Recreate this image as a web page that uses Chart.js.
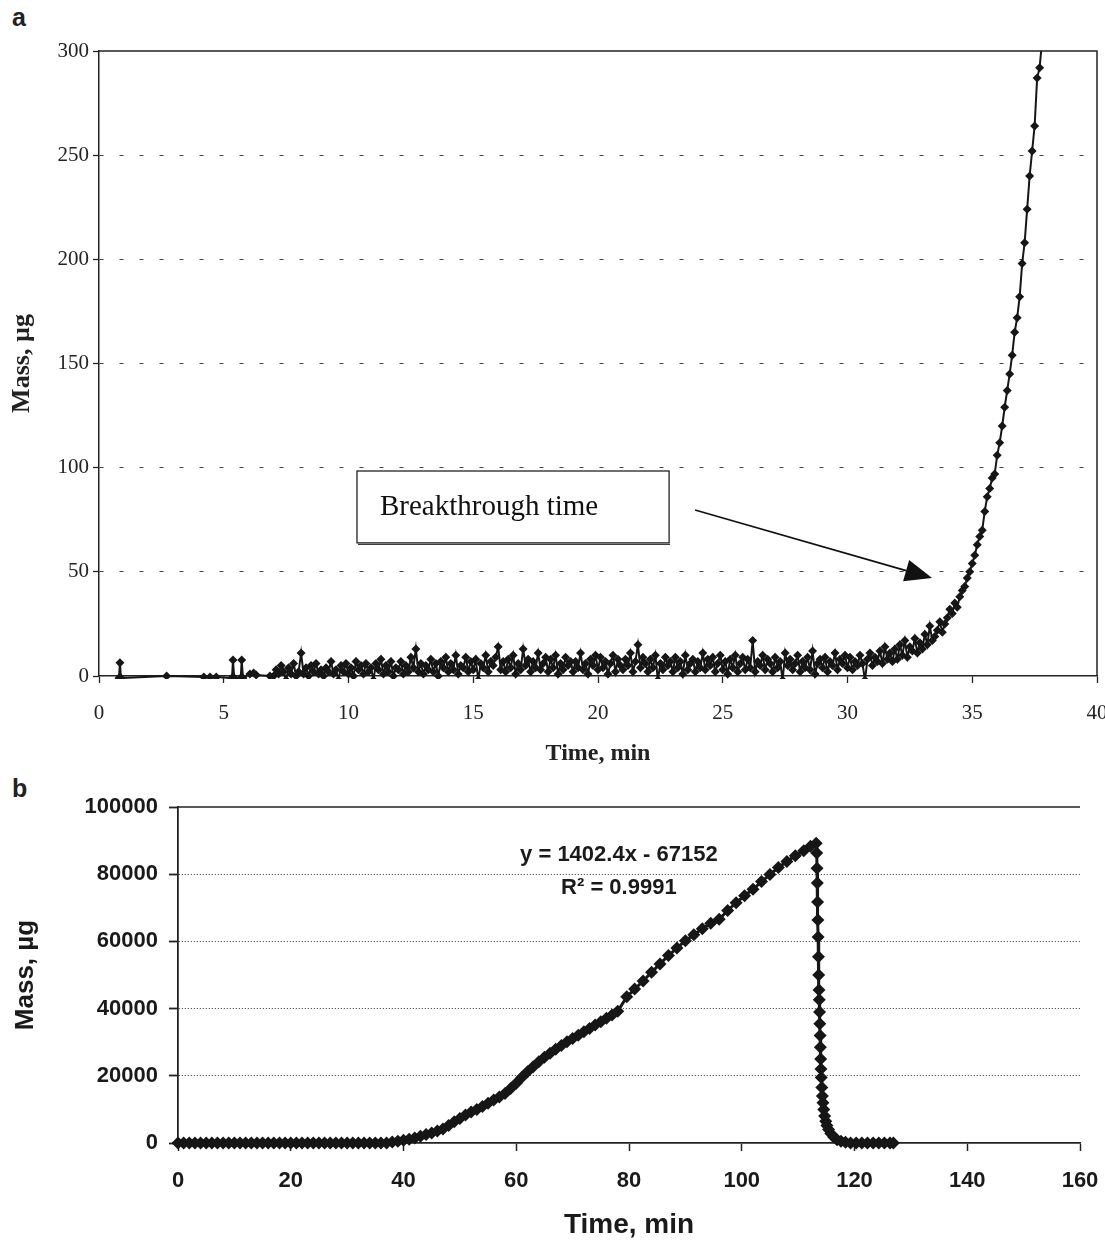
<!DOCTYPE html>
<html>
<head>
<meta charset="utf-8">
<script src="https://cdn.jsdelivr.net/npm/chart.js@4.4.1/dist/chart.umd.min.js"></script>
<style>
body { margin: 0; background: #fff; width: 1105px; height: 1240px; position: relative; overflow: hidden; }
.wrap { position: absolute; left: 0; }
.panel { position: absolute; font: bold 25px "Liberation Sans", Arial, sans-serif; color: #222; }
</style>
</head>
<body>
<div class="panel" style="left:12px;top:3px">a</div>
<div class="panel" style="left:12px;top:774px">b</div>
<div class="wrap" style="top:0;width:1105px;height:770px"><canvas id="chartA" width="1105" height="770"></canvas></div>
<div class="wrap" style="top:770px;width:1105px;height:470px"><canvas id="chartB" width="1105" height="470"></canvas></div>
<script>
// ---- panel a : breakthrough curve ----
const timeA = [
    0.80, 0.84, 0.88, 2.71, 4.20, 4.45, 4.70, 5.33, 5.37, 5.42, 5.68, 5.72, 5.77, 6.05, 6.20, 6.30, 6.85,
    7.0, 7.1, 7.2, 7.3, 7.4, 7.5, 7.6, 7.7, 7.8, 7.9,
    8.0, 8.1, 8.2, 8.3, 8.4, 8.5, 8.6, 8.7, 8.8, 8.9,
    9.0, 9.1, 9.2, 9.3, 9.4, 9.5, 9.6, 9.7, 9.8, 9.9,
    10.0, 10.1, 10.2, 10.3, 10.4, 10.5, 10.6, 10.7, 10.8, 10.9,
    11.0, 11.1, 11.2, 11.3, 11.4, 11.5, 11.6, 11.7, 11.8, 11.9,
    12.0, 12.1, 12.2, 12.3, 12.4, 12.5, 12.6, 12.7, 12.8, 12.9,
    13.0, 13.1, 13.2, 13.3, 13.4, 13.5, 13.6, 13.7, 13.8, 13.9,
    14.0, 14.1, 14.2, 14.3, 14.4, 14.5, 14.6, 14.7, 14.8, 14.9,
    15.0, 15.1, 15.2, 15.3, 15.4, 15.5, 15.6, 15.7, 15.8, 15.9,
    16.0, 16.1, 16.2, 16.3, 16.4, 16.5, 16.6, 16.7, 16.8, 16.9,
    17.0, 17.1, 17.2, 17.3, 17.4, 17.5, 17.6, 17.7, 17.8, 17.9,
    18.0, 18.1, 18.2, 18.3, 18.4, 18.5, 18.6, 18.7, 18.8, 18.9,
    19.0, 19.1, 19.2, 19.3, 19.4, 19.5, 19.6, 19.7, 19.8, 19.9,
    20.0, 20.1, 20.2, 20.3, 20.4, 20.5, 20.6, 20.7, 20.8, 20.9,
    21.0, 21.1, 21.2, 21.3, 21.4, 21.5, 21.6, 21.7, 21.8, 21.9,
    22.0, 22.1, 22.2, 22.3, 22.4, 22.5, 22.6, 22.7, 22.8, 22.9,
    23.0, 23.1, 23.2, 23.3, 23.4, 23.5, 23.6, 23.7, 23.8, 23.9,
    24.0, 24.1, 24.2, 24.3, 24.4, 24.5, 24.6, 24.7, 24.8, 24.9,
    25.0, 25.1, 25.2, 25.3, 25.4, 25.5, 25.6, 25.7, 25.8, 25.9,
    26.0, 26.1, 26.2, 26.3, 26.4, 26.5, 26.6, 26.7, 26.8, 26.9,
    27.0, 27.1, 27.2, 27.3, 27.4, 27.5, 27.6, 27.7, 27.8, 27.9,
    28.0, 28.1, 28.2, 28.3, 28.4, 28.5, 28.6, 28.7, 28.8, 28.9,
    29.0, 29.1, 29.2, 29.3, 29.4, 29.5, 29.6, 29.7, 29.8, 29.9,
    30.0, 30.1, 30.2, 30.3, 30.4, 30.5, 30.6, 30.7, 30.8, 30.9,
    31.0, 31.1, 31.2, 31.3, 31.4, 31.5, 31.6, 31.7, 31.8, 31.9,
    32.0, 32.1, 32.2, 32.3, 32.4, 32.5, 32.6, 32.7, 32.8, 32.9,
    33.0, 33.1, 33.2, 33.3, 33.4, 33.5, 33.6, 33.7, 33.8, 33.9,
    34.0, 34.1, 34.2, 34.3, 34.4, 34.5, 34.6, 34.7, 34.8, 34.9,
    35.0, 35.1, 35.2, 35.3, 35.4, 35.5, 35.6, 35.7, 35.8, 35.9,
    36.0, 36.1, 36.2, 36.3, 36.4, 36.5, 36.6, 36.7, 36.8, 36.9,
    37.0, 37.1, 37.2, 37.3, 37.4, 37.5, 37.6, 37.7, 37.8
];
const massA = [
    -1, 6.4, -1, 0, -0.5, -0.5, -0.5, -1, 7.7, -1, -1, 7.7, -1, 1, 1.5, 0.5, 0,
    0, 3, 1, 5, 2, -2, 4, 1, 6, 0,
    2, 11, 1, 4, 0, 5, 2, 6, 1, 3,
    0, 4, 2, 7, 1, 3, -2, 5, 2, 6,
    1, 4, 0, 7, 3, 5, 1, 6, 2, 4,
    -2, 6, 3, 8, 1, 5, 2, 7, 0, 4,
    3, 7, 1, 5, 2, 9, 4, 13, 2, 6,
    1, 5, 3, 8, 2, 6, 0, 7, 4, 9,
    2, 6, 3, 10, 1, 5, 4, 9, 2, 7,
    3, 8, -2, 6, 4, 10, 2, 7, 5, 9,
    14, 3, 7, 2, 8, 4, 10, 1, 6, 3,
    13, 5, 8, 2, 7, 4, 11, 3, 6, 9,
    2, 8, 4, 10, 1, 6, 3, 9, 5, 7,
    2, 7, 4, 11, 3, 6, 1, 8, 5, 10,
    3, 9, 4, 7, 1, 6, 10, 2, 8, 5,
    3, 8, 5, 11, 2, 7, 15, 4, 9, 6,
    2, 8, 4, 10, -2, 6, 3, 9, 5, 7,
    2, 9, 4, 7, 1, 10, 3, 6, 8, 2,
    7, 4, 11, 3, 8, 5, 9, 2, 6, 10,
    3, 7, 1, 8, 4, 10, 2, 6, 9, 3,
    8, 4, 17, 2, 7, 5, 10, 3, 8, 6,
    2, 9, 4, 7, -2, 11, 5, 8, 3, 6,
    10, 2, 7, 4, 9, 3, 12, 1, 6, 8,
    4, 9, 2, 7, 5, 11, 3, 8, 6, 10,
    4, 9, 3, 7, 5, 10, 6, -2, 8, 11,
    5, 9, 7, 12, 6, 14, 8, 11, 7, 13,
    8, 15, 10, 17, 9, 14, 12, 18, 11, 16,
    13, 20, 15, 24, 17, 19, 22, 26, 21, 25,
    28, 32, 30, 35, 33, 38, 41, 43, 47, 50,
    54, 58, 63, 67, 70, 79, 86, 90, 95, 97,
    106, 112, 120, 129, 137, 145, 154, 165, 172, 182,
    198, 208, 224, 240, 252, 264, 287, 292, 305
];
const ticksAX = [0, 5, 10, 15, 20, 25, 30, 35, 40];
const ticksAY = [0, 50, 100, 150, 200, 250, 300];

// callout box and arrow, in data units (min, µg)
const noteText = 'Breakthrough time';
const noteTime = [10.34, 22.85];
const noteMass = [98.4, 63.9];
const arrowTime = [23.89, 33.39];
const arrowMass = [79.7, 47.0];

// ---- panel b : mass vs time ----
const timeB = [
    0, 1, 2, 3, 4, 5, 6, 7, 8, 9, 10, 11, 12, 13, 14, 15, 16, 17, 18, 19,
    20, 21, 22, 23, 24, 25, 26, 27, 28, 29, 30, 31, 32, 33, 34, 35, 36, 37,
    38, 39, 40, 41, 42, 43, 44, 45, 46, 47, 48, 49, 50, 51, 52, 53, 54, 55, 56, 57, 58, 59,
    60, 61, 62, 63, 64, 65, 66, 67, 68, 69, 70, 71, 72, 73, 74, 75, 76, 77, 78,
    79.6, 81, 82.5, 84, 85.5, 87, 88.5, 90, 91.5, 93, 94.5, 96, 97.5, 99, 100.5, 102,
    103.5, 105, 106.5, 108, 109.5, 111, 112.2, 113.2,
    113.3, 113.35, 113.4, 113.45, 113.5, 113.55, 113.6, 113.65, 113.7, 113.75,
    113.8, 113.85, 113.9, 113.95, 114.0, 114.05, 114.1, 114.2, 114.3, 114.4,
    114.55, 114.7, 114.9, 115.1, 115.4, 115.8, 116.3, 116.9, 117.6, 118.4,
    119.3, 120.3, 121.3, 122.3, 123.3, 124.3, 125.3, 126.3, 126.9
];
const massB = [
    0, 0, 0, 0, 0, 0, 0, 0, 0, 0, 0, 0, 0, 0, 0, 0, 0, 0, 0, 0,
    0, 0, 0, 0, 0, 0, 0, 0, 0, 0, 0, 0, 0, 0, 0, 0, 0, 0,
    300, 500, 800, 1100, 1500, 2000, 2500, 3000, 3600, 4200, 5200, 6300, 7300, 8300, 9200, 10000, 10900, 11800, 12800, 13700, 14700, 16200,
    17800, 19600, 21200, 22700, 24200, 25500, 26700, 27900, 29000, 30100, 31100, 32100, 33100, 34100, 35100, 36100, 37100, 38100, 39200,
    43500, 45800, 48200, 50800, 53300, 55800, 58000, 60200, 62000, 63800, 65400, 66600, 69200, 71500, 73600, 75500,
    77800, 79900, 82000, 83800, 85500, 87000, 88300, 89200,
    86300, 81800, 77400, 71700, 66400, 61300, 55400, 50000, 45500, 42600,
    39000, 35500, 32000, 28500, 25000, 22000, 19500, 16500, 14000, 12000,
    10000, 8000, 6500, 5200, 4000, 2800, 1800, 1000, 500, 200,
    0, 0, 0, 0, 0, 0, 0, 0, 0
];
const ticksBX = [0, 20, 40, 60, 80, 100, 120, 140, 160];
const ticksBY = [0, 20000, 40000, 60000, 80000, 100000];

const fitLines = ['y = 1402.4x - 67152', 'R\u00b2 = 0.9991'];
const fitTime = 78.2;
const fitMass = [85700, 75900];

const ink = '#161616';
const serif = '"Liberation Serif", "Times New Roman", serif';
const sans = '"Liberation Sans", Arial, sans-serif';

function pairs(xs, ys) {
    return xs.map((x, i) => ({ x: x, y: ys[i] }));
}

function noPad(scale) {
    scale.paddingLeft = 0;
    scale.paddingRight = 0;
    scale.paddingTop = 0;
    scale.paddingBottom = 0;
}

const decorA = {
    id: 'decorA',
    afterDraw(chart) {
        const { ctx, chartArea: a } = chart;
        const xs = chart.scales.x, ys = chart.scales.y;
        ctx.save();
        // plot frame top and right
        ctx.strokeStyle = '#222';
        ctx.lineWidth = 1.5;
        ctx.beginPath();
        ctx.moveTo(a.left, a.top);
        ctx.lineTo(a.right, a.top);
        ctx.lineTo(a.right, a.bottom);
        ctx.stroke();

        // callout box
        const bx0 = xs.getPixelForValue(noteTime[0]), bx1 = xs.getPixelForValue(noteTime[1]);
        const by0 = ys.getPixelForValue(noteMass[0]), by1 = ys.getPixelForValue(noteMass[1]);
        ctx.fillStyle = '#fff';
        ctx.fillRect(bx0, by0, bx1 - bx0, by1 - by0);
        ctx.lineWidth = 1.3;
        ctx.strokeRect(bx0, by0, bx1 - bx0, by1 - by0);
        ctx.lineWidth = 1;
        ctx.beginPath();
        ctx.moveTo(bx0 + 1, by1 + 1.5);
        ctx.lineTo(bx1 + 1, by1 + 1.5);
        ctx.stroke();
        ctx.fillStyle = '#111';
        ctx.font = '29px ' + serif;
        ctx.textBaseline = 'middle';
        ctx.textAlign = 'left';
        ctx.fillText(noteText, bx0 + 23, (by0 + by1) / 2);

        // arrow
        const ax0 = xs.getPixelForValue(arrowTime[0]), ay0 = ys.getPixelForValue(arrowMass[0]);
        const ax1 = xs.getPixelForValue(arrowTime[1]), ay1 = ys.getPixelForValue(arrowMass[1]);
        const ang = Math.atan2(ay1 - ay0, ax1 - ax0);
        const headLen = 27, headHalf = 11;
        const hx = ax1 - headLen * Math.cos(ang), hy = ay1 - headLen * Math.sin(ang);
        ctx.strokeStyle = '#111';
        ctx.lineWidth = 1.6;
        ctx.beginPath();
        ctx.moveTo(ax0, ay0);
        ctx.lineTo(hx, hy);
        ctx.stroke();
        ctx.beginPath();
        ctx.moveTo(ax1, ay1);
        ctx.lineTo(hx + headHalf * Math.sin(ang), hy - headHalf * Math.cos(ang));
        ctx.lineTo(hx - headHalf * Math.sin(ang), hy + headHalf * Math.cos(ang));
        ctx.closePath();
        ctx.fill();
        ctx.restore();
    }
};

const decorB = {
    id: 'decorB',
    afterDraw(chart) {
        const { ctx, chartArea: a } = chart;
        const xs = chart.scales.x, ys = chart.scales.y;
        ctx.save();
        ctx.strokeStyle = '#222';
        ctx.lineWidth = 1.5;
        ctx.beginPath();
        ctx.moveTo(a.left, a.top);
        ctx.lineTo(a.right, a.top);
        ctx.stroke();

        ctx.fillStyle = '#1a1a1a';
        ctx.font = 'bold 22px ' + sans;
        ctx.textAlign = 'center';
        ctx.textBaseline = 'middle';
        const fx = xs.getPixelForValue(fitTime);
        fitLines.forEach((line, i) => {
            ctx.fillText(line, fx, ys.getPixelForValue(fitMass[i]));
        });
        ctx.restore();
    }
};

new Chart(document.getElementById('chartA'), {
    type: 'line',
    data: {
        datasets: [{
            data: pairs(timeA, massA),
            borderColor: ink,
            borderWidth: 2,
            pointStyle: 'rectRot',
            pointRadius: 4.5,
            pointBorderWidth: 0,
            pointBackgroundColor: ink,
            tension: 0,
            clip: { left: 10, top: 0, right: 10, bottom: 3 }
        }]
    },
    options: {
        responsive: false,
        animation: false,
        layout: { padding: { top: 51, right: 8, left: 0, bottom: 0 } },
        plugins: { legend: { display: false }, tooltip: { enabled: false } },
        scales: {
            x: {
                type: 'linear', min: 0, max: 40,
                afterBuildTicks: s => { s.ticks = ticksAX.map(v => ({ value: v })); },
                afterFit: s => { s.height = 94; noPad(s); },
                grid: { drawOnChartArea: false, drawTicks: true, tickLength: 7, tickColor: '#222', tickWidth: 1.3 },
                border: { color: '#222', width: 1.5 },
                ticks: { font: { family: serif, size: 21 }, color: '#222', padding: 18, maxRotation: 0, callback: v => String(v) },
                title: { display: true, text: 'Time, min', color: '#222', font: { family: serif, size: 24, weight: 'bold' }, padding: { top: 0, bottom: 2 } }
            },
            y: {
                min: 0, max: 300,
                afterBuildTicks: s => { s.ticks = ticksAY.map(v => ({ value: v })); },
                afterFit: s => { s.width = 99; noPad(s); },
                grid: {
                    color: c => (c.tick && (c.tick.value === 0 || c.tick.value === 300)) ? 'rgba(0,0,0,0)' : '#444',
                    lineWidth: 1, tickLength: 6, tickColor: '#222', tickWidth: 1.3
                },
                border: { color: '#222', width: 1.5, dash: [4, 16] },
                ticks: { font: { family: serif, size: 21 }, color: '#222', padding: 4, callback: v => String(v) },
                title: { display: true, text: 'Mass, \u00b5g', color: '#222', font: { family: serif, size: 26, weight: 'bold' }, padding: { top: 7, bottom: 0 } }
            }
        }
    },
    plugins: [decorA]
});

new Chart(document.getElementById('chartB'), {
    type: 'line',
    data: {
        datasets: [{
            data: pairs(timeB, massB),
            borderColor: ink,
            borderWidth: 3,
            pointStyle: 'rectRot',
            pointRadius: 6.5,
            pointBorderWidth: 0,
            pointBackgroundColor: ink,
            tension: 0,
            clip: false
        }]
    },
    options: {
        responsive: false,
        animation: false,
        layout: { padding: { top: 37, right: 25, left: 0, bottom: 0 } },
        plugins: { legend: { display: false }, tooltip: { enabled: false } },
        scales: {
            x: {
                type: 'linear', min: 0, max: 160,
                afterBuildTicks: s => { s.ticks = ticksBX.map(v => ({ value: v })); },
                afterFit: s => { s.height = 97; noPad(s); },
                grid: { drawOnChartArea: false, drawTicks: true, tickLength: 8, tickColor: '#222', tickWidth: 1.5 },
                border: { color: '#222', width: 1.8 },
                ticks: { font: { family: sans, size: 22, weight: 'bold' }, color: '#1a1a1a', padding: 17, maxRotation: 0, callback: v => String(v) },
                title: { display: true, text: 'Time, min', color: '#1a1a1a', font: { family: sans, size: 28, weight: 'bold', lineHeight: 1 }, padding: { top: 0, bottom: 1 } }
            },
            y: {
                min: 0, max: 100000,
                afterBuildTicks: s => { s.ticks = ticksBY.map(v => ({ value: v })); },
                afterFit: s => { s.width = 178; noPad(s); },
                grid: {
                    color: c => (c.tick && (c.tick.value === 0 || c.tick.value === 100000)) ? 'rgba(0,0,0,0)' : '#333',
                    lineWidth: 1, tickLength: 9, tickColor: '#222', tickWidth: 1.8
                },
                border: { color: '#222', width: 1.8, dash: [1, 2] },
                ticks: { font: { family: sans, size: 22, weight: 'bold' }, color: '#1a1a1a', padding: 11, callback: v => String(v) },
                title: { display: true, text: 'Mass, \u00b5g', color: '#1a1a1a', font: { family: sans, size: 26, weight: 'bold', lineHeight: 1 }, padding: { top: 13, bottom: 0 } }
            }
        }
    },
    plugins: [decorB]
});
</script>
</body>
</html>
